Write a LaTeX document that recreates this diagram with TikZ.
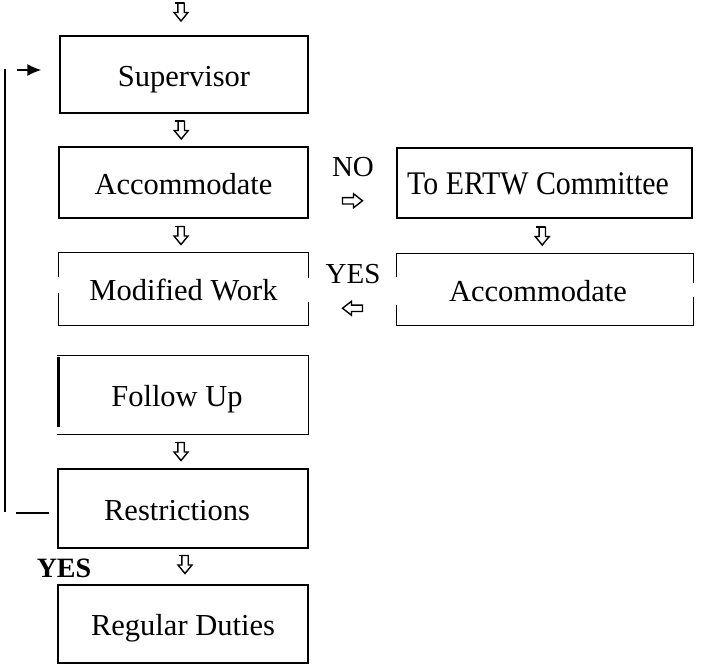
\documentclass[tikz,border=0pt]{standalone}
\usepackage{fontspec}
\setmainfont{Liberation Serif}
\usetikzlibrary{calc,arrows.meta}
\tikzset{
  boxline/.style={line width=1.3pt},
  box/.style={rectangle, draw, boxline, inner sep=0pt, text height=23pt, text depth=0pt,
    font=\fontsize{30.5}{34}\selectfont},
  openbox/.style={box, draw=none},
  lbl/.style={inner sep=0pt, text height=22pt, text depth=0pt, font=\fontsize{29}{32}\selectfont},
  darr/.pic={\draw[line width=1.4pt, fill=white, line join=miter]
      (-3.2,-9) -- (-3.2,0.5) -- (-7,0.5) -- (0,9) -- (7,0.5) -- (3.2,0.5) -- (3.2,-9) -- cycle;
      \draw[line width=1.4pt] (-6,-9) -- (3.2,-9);},
  rarr/.pic={\draw[line width=1.4pt, fill=white, line join=miter]
      (-10,-3.2) -- (1,-3.2) -- (1,-7) -- (10,0) -- (1,7) -- (1,3.2) -- (-10,3.2) -- cycle;},
  feed/.style={line width=1.6pt},
}
\begin{document}
\begin{tikzpicture}[x=1pt,y=-1pt]
\useasboundingbox (0,0) rectangle (726,664);

% boxes
\node[box, minimum width=248pt, minimum height=77pt] (sup) at (184,74.5) {Supervisor};
\node[box, minimum width=249pt, minimum height=71pt] (acc) at (183.5,182.5) {Accommodate};
\node[box, minimum width=295pt, minimum height=70pt] (ertw) at (544.5,183)
  {\hspace*{-13pt}\fontsize{33}{36}\selectfont\scalebox{0.905}[1]{To ERTW Committee}};
\node[openbox, minimum width=296pt, minimum height=71pt] (acc2) at (545,289.5) {\hspace*{-14pt}Accommodate};
\node[openbox, minimum width=249pt, minimum height=72pt] (mod) at (183.5,289) {Modified Work};
\node[openbox, minimum width=250pt, minimum height=78pt] (fol) at (183,395) {\hspace*{-12pt}Follow Up};
\node[box, minimum width=250pt, minimum height=79pt] (res) at (183,508.5) {\hspace*{-12pt}Restrictions};
\node[box, minimum width=250pt, minimum height=78pt] (reg) at (183,624) {Regular Duties};

% broken outlines
\draw[boxline] ($(mod.west)+(0,-12)$) -- (mod.north west) -- (mod.north east) -- ($(mod.east)+(0,-11)$);
\draw[boxline] ($(mod.west)+(0,4)$) -- (mod.south west) -- (mod.south east) -- ($(mod.east)+(0,13)$);
\draw[boxline] ($(acc2.west)+(0,-12.5)$) -- (acc2.north west) -- (acc2.north east) -- ($(acc2.east)+(0,-6.5)$);
\draw[boxline] ($(acc2.west)+(0,15.5)$) -- (acc2.south west) -- (acc2.south east) -- ($(acc2.east)+(0,7.5)$);
\draw[boxline] (fol.north west) -- (fol.north east) -- (fol.south east) -- (fol.south west);
\draw[line width=2.6pt] ($(fol.north west)+(1,2)$) -- ($(fol.south west)+(1,-8)$);

% labels
\node[lbl] (no) at (353,165) {NO};
\node[lbl] (yes1) at (353,272) {YES};
\node[lbl, font=\fontsize{28}{32}\selectfont\bfseries] (yes2) at (64,566) {YES};

% block arrows
\coordinate (topin) at (181,12);
\pic at (topin) {darr};
\pic at ($(sup.south)!0.5!(acc.north)+(-2.5,0)$) {darr};
\pic at ($(acc.south)!0.5!(mod.north)+(-2.5,0)$) {darr};
\pic at ($(ertw.south)!0.5!(acc2.north)+(-2.5,0)$) {darr};
\pic at ($(fol.south)!0.5!(res.north)+(-2,0)$) {darr};
\pic at ($(res.south)!0.5!(reg.north)+(2,-2)$) {darr};
\pic at ($(acc.east)!0.5!(ertw.west)+(0,18)$) {rarr};
\pic[rotate=180] at ($(mod.east)!0.5!(acc2.west)+(0,19)$) {rarr};

% feedback loop
\coordinate (fbt) at (5,69);
\coordinate (fbb) at (5,512);
\coordinate (fbin) at (17,70);
\coordinate (fbout) at ($(res.west)+(-41,4.5)$);
\draw[line width=2pt] (fbt) -- (fbb);
\draw[feed, -{Latex[length=14pt,width=12pt]}] (fbin) -- ($(sup.west)+(-18,-4.5)$);
\draw[feed] (fbout) -- ($(res.west)+(-8,4.5)$);
\end{tikzpicture}
\end{document}
